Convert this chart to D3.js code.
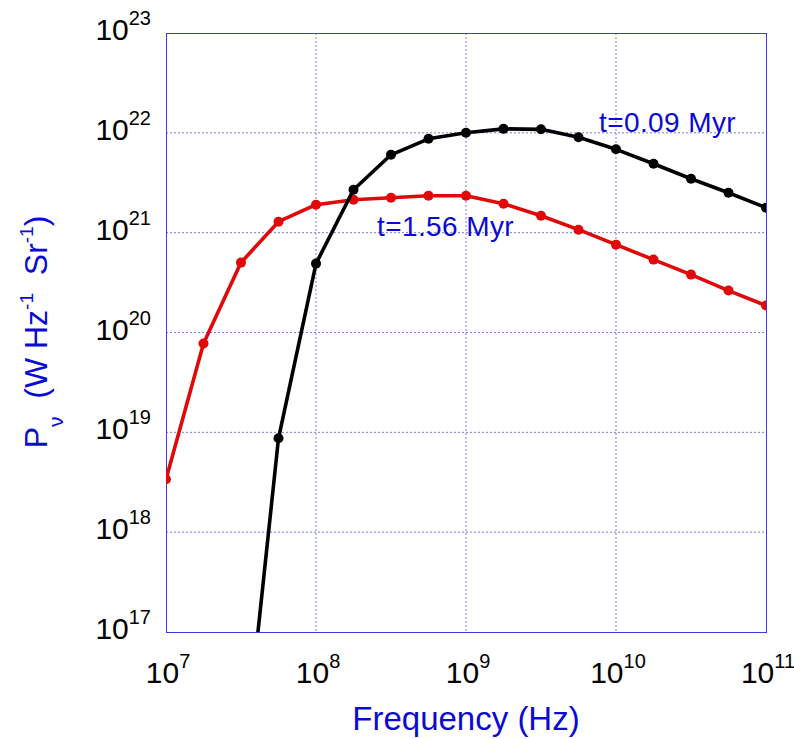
<!DOCTYPE html>
<html>
<head>
<meta charset="utf-8">
<script src="https://cdn.jsdelivr.net/npm/d3@7"></script>
<style>
  html, body { margin: 0; padding: 0; background: #fff; }
  svg { display: block; }
</style>
</head>
<body>
<svg id="chart" width="794" height="739"></svg>
<script>
// Frequency grid: quarter-decade steps, log10(Hz)
const logFreq = [7, 7.25, 7.5, 7.75, 8, 8.25, 8.5, 8.75, 9, 9.25, 9.5, 9.75, 10, 10.25, 10.5, 10.75, 11];

// Spectral power log10(W Hz^-1 Sr^-1) for each age
const logPowerYoung = [null, null, 15.4, 18.94, 20.69, 21.43, 21.78, 21.94, 22.00, 22.04, 22.035, 21.955, 21.835, 21.69, 21.54, 21.40, 21.25];
const logPowerOld   = [18.53, 19.89, 20.70, 21.11, 21.28, 21.33, 21.35, 21.37, 21.37, 21.29, 21.17, 21.03, 20.88, 20.73, 20.58, 20.42, 20.27];

const xTickExponents = [7, 8, 9, 10, 11];
const yTickExponents = [17, 18, 19, 20, 21, 22, 23];

const seriesLabels = ["t=0.09 Myr", "t=1.56 Myr"];

const svg = d3.select("#chart");
const font = "'Liberation Sans', Arial, sans-serif";
const blue = "#0a0ad2";

const plot = { left: 166, top: 33, width: 600, height: 599 };

const x = d3.scaleLog().domain([1e7, 1e11]).range([plot.left, plot.left + plot.width]);
const y = d3.scaleLog().domain([1e17, 1e23]).range([plot.top + plot.height, plot.top]);

svg.append("defs").append("clipPath").attr("id", "plot-clip")
  .append("rect")
  .attr("x", plot.left).attr("y", plot.top)
  .attr("width", plot.width).attr("height", plot.height);

// Dotted decade grid
const grid = svg.append("g");
grid.selectAll("line.vx").data(xTickExponents.slice(1, -1)).join("line")
  .attr("x1", d => x(Math.pow(10, d))).attr("x2", d => x(Math.pow(10, d)))
  .attr("y1", plot.top).attr("y2", plot.top + plot.height)
  .attr("stroke", "#7a7ae6").attr("stroke-width", 1).attr("stroke-dasharray", "2,2");
grid.selectAll("line.hy").data(yTickExponents.slice(1, -1)).join("line")
  .attr("y1", d => y(Math.pow(10, d))).attr("y2", d => y(Math.pow(10, d)))
  .attr("x1", plot.left).attr("x2", plot.left + plot.width)
  .attr("stroke", "#7a7ae6").attr("stroke-width", 1).attr("stroke-dasharray", "2,2");

// Frame
svg.append("rect")
  .attr("x", plot.left + 0.5).attr("y", plot.top + 0.5)
  .attr("width", plot.width).attr("height", plot.height)
  .attr("fill", "none").attr("stroke", "#3a3ae0").attr("stroke-width", 1);

// Tick labels as powers of ten
function powerLabel(sel, exp) {
  sel.append("tspan").text("10");
  sel.append("tspan").attr("dy", -15).attr("font-size", 20).text(exp);
}

const xLabels = svg.append("g");
xTickExponents.forEach(e => {
  const t = xLabels.append("text")
    .attr("x", x(Math.pow(10, e)) + 2).attr("y", 683)
    .attr("text-anchor", "middle")
    .attr("font-family", font).attr("font-size", 30).attr("fill", "#000");
  powerLabel(t, e);
});

const yLabels = svg.append("g");
yTickExponents.forEach(e => {
  const t = yLabels.append("text")
    .attr("x", 151).attr("y", y(Math.pow(10, e)) + 7)
    .attr("text-anchor", "end")
    .attr("font-family", font).attr("font-size", 30).attr("fill", "#000");
  powerLabel(t, e);
});

// Series
const series = [
  { values: logPowerOld, color: "#e00808" },
  { values: logPowerYoung, color: "#000000" }
];

const line = d3.line()
  .defined(d => d[1] !== null)
  .x(d => x(Math.pow(10, d[0])))
  .y(d => y(Math.pow(10, d[1])));

const marks = svg.append("g").attr("clip-path", "url(#plot-clip)");
series.forEach(s => {
  const pts = logFreq.map((f, i) => [f, s.values[i]]);
  marks.append("path").datum(pts)
    .attr("d", line)
    .attr("fill", "none").attr("stroke", s.color)
    .attr("stroke-width", 3.6).attr("stroke-linejoin", "round");
  marks.selectAll(null).data(pts.filter(d => d[1] !== null)).join("circle")
    .attr("cx", d => x(Math.pow(10, d[0])))
    .attr("cy", d => y(Math.pow(10, d[1])))
    .attr("r", 5).attr("fill", s.color);
});

// Series annotations
svg.append("text").attr("x", 599).attr("y", 132)
  .attr("font-family", font).attr("font-size", 28).attr("letter-spacing", 0.4).attr("fill", blue)
  .text(seriesLabels[0]);
svg.append("text").attr("x", 377).attr("y", 236)
  .attr("font-family", font).attr("font-size", 28).attr("letter-spacing", 0.4).attr("fill", blue)
  .text(seriesLabels[1]);

// Axis titles
svg.append("text")
  .attr("x", plot.left + plot.width / 2).attr("y", 730)
  .attr("text-anchor", "middle")
  .attr("font-family", font).attr("font-size", 33).attr("fill", blue)
  .text("Frequency (Hz)");

const yTitle = svg.append("text")
  .attr("transform", "translate(47,332) rotate(-90)")
  .attr("text-anchor", "middle")
  .attr("font-family", font).attr("font-size", 32).attr("fill", blue);
yTitle.append("tspan").text("P");
yTitle.append("tspan").attr("dy", 16).attr("font-size", 21).text("\u03bd");
yTitle.append("tspan").attr("dy", -16).text("\u00a0\u00a0(W Hz");
yTitle.append("tspan").attr("dy", -14).attr("font-size", 19).text("-1");
yTitle.append("tspan").attr("dy", 14).text("\u00a0 Sr");
yTitle.append("tspan").attr("dy", -14).attr("font-size", 19).text("-1");
yTitle.append("tspan").attr("dy", 14).text(")");
</script>
</body>
</html>
